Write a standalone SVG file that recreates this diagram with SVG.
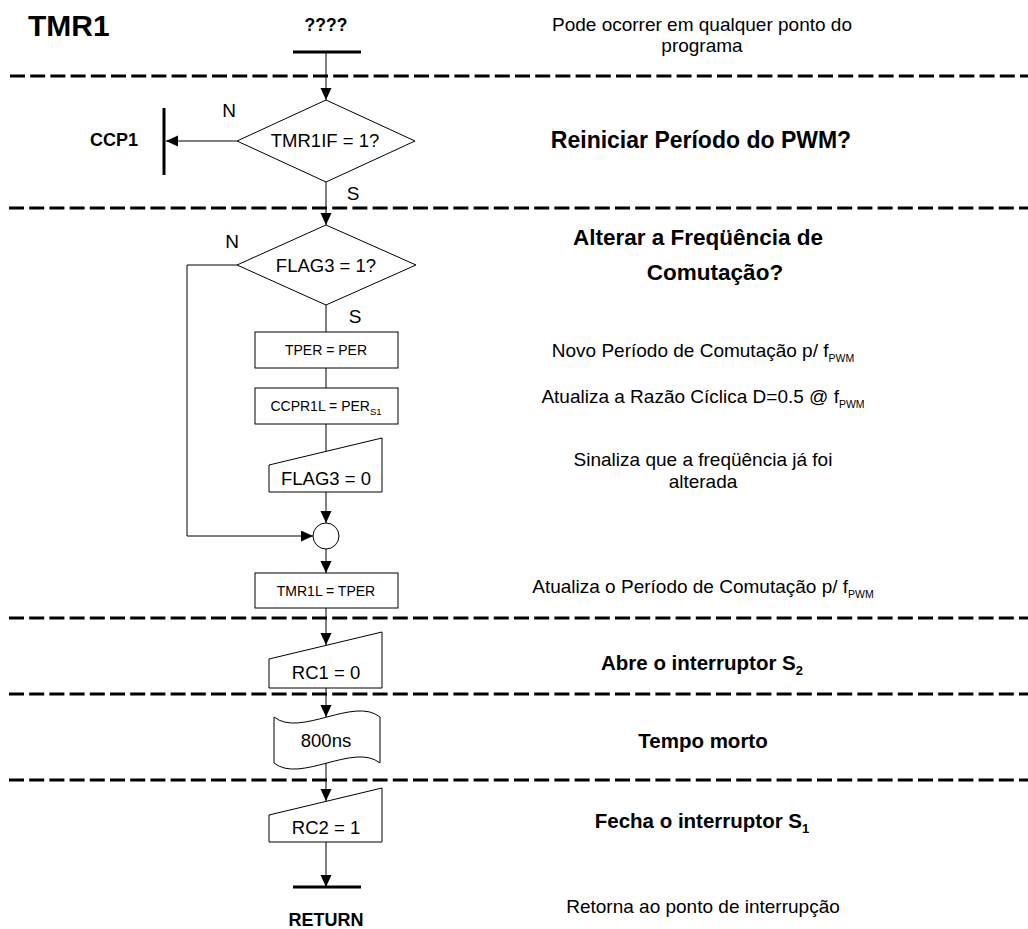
<svg xmlns="http://www.w3.org/2000/svg" width="1028" height="929" viewBox="0 0 1028 929">
  <style>
    text { font-family: "Liberation Sans", Arial, Helvetica, sans-serif; fill: #000; }
    .title { font-size: 30px; font-weight: bold; }
    .hd { font-size: 22.5px; font-weight: bold; text-anchor: middle; }
    .hd2 { font-size: 20.5px; font-weight: bold; text-anchor: middle; }
    .note { font-size: 19px; text-anchor: middle; }
    .lbl { font-size: 18.5px; text-anchor: middle; }
    .sm { font-size: 14px; text-anchor: middle; }
    .yn { font-size: 19px; text-anchor: middle; }
    .term { font-size: 18px; font-weight: bold; text-anchor: middle; }
    .shape { fill: #fff; stroke: #000; stroke-width: 1; }
    .flow { fill: none; stroke: #000; stroke-width: 1; }
    .bar { stroke: #000; stroke-width: 3; }
    .sep { stroke: #000; stroke-width: 3; stroke-dasharray: 15 5.2; }
  </style>
  <defs>
    <marker id="arrow" markerUnits="userSpaceOnUse" markerWidth="13" markerHeight="12" refX="12" refY="5.5" orient="auto">
      <path d="M0,0 L12,5.5 L0,11 z" fill="#000"/>
    </marker>
  </defs>

  <!-- section separators -->
  <g id="separators">
    <line class="sep" x1="10" y1="76" x2="1028" y2="76"/>
    <line class="sep" x1="9" y1="208" x2="1028" y2="208"/>
    <line class="sep" x1="9" y1="618" x2="1028" y2="618"/>
    <line class="sep" x1="9" y1="694" x2="1028" y2="694"/>
    <line class="sep" x1="9" y1="780" x2="1028" y2="780"/>
  </g>

  <text class="title" x="28" y="36">TMR1</text>

  <!-- connectors -->
  <g id="connectors">
    <path class="flow" d="M326,52 V100" marker-end="url(#arrow)"/>
    <path class="flow" d="M237,141 H166" marker-end="url(#arrow)"/>
    <path class="flow" d="M326,182 V225" marker-end="url(#arrow)"/>
    <path class="flow" d="M326,305 V332"/>
    <path class="flow" d="M326,368 V388"/>
    <path class="flow" d="M326,424 V451"/>
    <path class="flow" d="M326,492 V523" marker-end="url(#arrow)"/>
    <path class="flow" d="M237,265 H187 V536 H313" marker-end="url(#arrow)"/>
    <path class="flow" d="M326,549 V573" marker-end="url(#arrow)"/>
    <path class="flow" d="M326,608 V645" marker-end="url(#arrow)"/>
    <path class="flow" d="M326,688 V717" marker-end="url(#arrow)"/>
    <path class="flow" d="M326,763 V801" marker-end="url(#arrow)"/>
    <path class="flow" d="M326,842 V887" marker-end="url(#arrow)"/>
    <text class="yn" x="229" y="117">N</text>
    <text class="yn" x="353" y="200">S</text>
    <text class="yn" x="232" y="248">N</text>
    <text class="yn" x="355" y="323">S</text>
  </g>

  <!-- entry terminal -->
  <g id="start">
    <text class="term" x="326" y="31" style="font-size:17.5px">????</text>
    <line class="bar" x1="293" y1="52" x2="361" y2="52"/>
  </g>

  <g id="ccp1">
    <line class="bar" x1="164" y1="108" x2="164" y2="175"/>
    <text class="term" x="114" y="146">CCP1</text>
  </g>

  <g id="tmr1if">
    <polygon class="shape" points="326,100 415,141 326,182 237,141"/>
    <text class="lbl" x="325" y="147">TMR1IF = 1?</text>
  </g>

  <g id="flag3-test">
    <polygon class="shape" points="326,225 416,265 326,305 237,265"/>
    <text class="lbl" x="326" y="272">FLAG3 = 1?</text>
  </g>

  <g id="tper">
    <rect class="shape" x="255" y="332" width="143" height="36"/>
    <text class="sm" x="326" y="355">TPER = PER</text>
  </g>

  <g id="ccpr1l">
    <rect class="shape" x="255" y="388" width="143" height="36"/>
    <text class="sm" x="326" y="411">CCPR1L = PER<tspan dy="4" style="font-size:9.5px">S1</tspan></text>
  </g>

  <g id="flag3-clear">
    <polygon class="shape" points="269,465 382,438 382,492 269,492"/>
    <text class="lbl" x="326" y="485">FLAG3 = 0</text>
  </g>

  <g id="join">
    <circle class="shape" cx="326" cy="536" r="13"/>
  </g>

  <g id="tmr1l">
    <rect class="shape" x="255" y="573" width="143" height="35"/>
    <text class="sm" x="326" y="596">TMR1L = TPER</text>
  </g>

  <g id="rc1">
    <polygon class="shape" points="269,659 382,632 382,688 269,688"/>
    <text class="lbl" x="326" y="679">RC1 = 0</text>
  </g>

  <g id="delay">
    <path class="shape" d="M274,717 C300,738 354,696 380,717 V763 C354,742 300,784 274,763 Z"/>
    <text class="lbl" x="326" y="747">800ns</text>
  </g>

  <g id="rc2">
    <polygon class="shape" points="269,815 382,788 382,842 269,842"/>
    <text class="lbl" x="326" y="834">RC2 = 1</text>
  </g>

  <g id="return">
    <line class="bar" x1="293" y1="887" x2="361" y2="887"/>
    <text class="term" x="326" y="926">RETURN</text>
  </g>

  <!-- step descriptions -->
  <g id="notes">
    <text class="note" x="702" y="31">Pode ocorrer em qualquer ponto do</text>
    <text class="note" x="702" y="52">programa</text>
    <text class="hd" x="701" y="148" style="font-size:23px">Reiniciar Período do PWM?</text>
    <text class="hd" x="698" y="245">Alterar a Freqüência de</text>
    <text class="hd" x="715" y="280">Comutação?</text>
    <text class="note" x="703" y="357">Novo Período de Comutação p/ f<tspan dy="5" style="font-size:10.5px">PWM</tspan></text>
    <text class="note" x="703" y="403">Atualiza a Razão Cíclica D=0.5 @ f<tspan dy="5" style="font-size:10.5px">PWM</tspan></text>
    <text class="note" x="703" y="466">Sinaliza que a freqüência já foi</text>
    <text class="note" x="703" y="488">alterada</text>
    <text class="note" x="703" y="593">Atualiza o Período de Comutação p/ f<tspan dy="5" style="font-size:10.5px">PWM</tspan></text>
    <text class="hd2" x="702" y="670">Abre o interruptor S<tspan dy="5" style="font-size:13px">2</tspan></text>
    <text class="hd2" x="703" y="748">Tempo morto</text>
    <text class="hd2" x="702" y="828">Fecha o interruptor S<tspan dy="5" style="font-size:13px">1</tspan></text>
    <text class="note" x="703" y="913">Retorna ao ponto de interrupção</text>
  </g>
</svg>
